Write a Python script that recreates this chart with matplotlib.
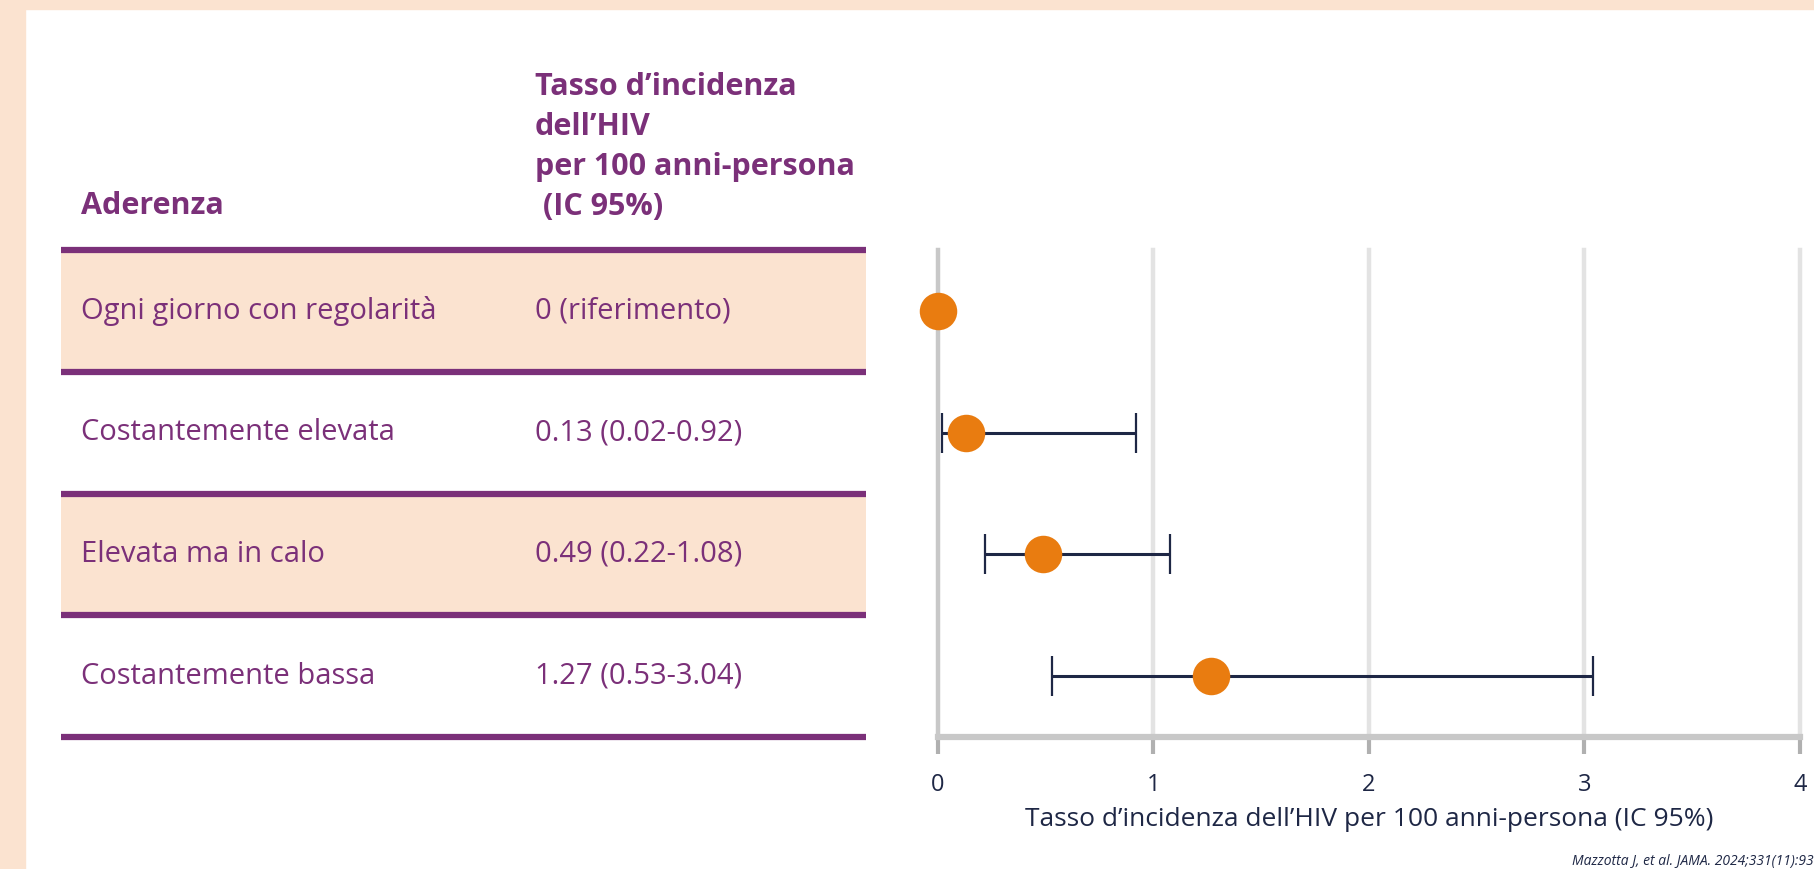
import matplotlib.pyplot as plt

# data
groups = ['Ogni giorno con regolarità', 'Costantemente elevata',
          'Elevata ma in calo', 'Costantemente bassa']
rate_text = ['0 (riferimento)', '0.13 (0.02-0.92)', '0.49 (0.22-1.08)', '1.27 (0.53-3.04)']
rate = [0.0, 0.13, 0.49, 1.27]
ci_low = [None, 0.02, 0.22, 0.53]
ci_high = [None, 0.92, 1.08, 3.04]
xticks = [0, 1, 2, 3, 4]

purple = '#7B3079'
peach = '#FBE3D0'
navy = '#1E2745'
orange = '#E97C10'
W, H = 1815, 869

plt.rcParams['font.family'] = ['Open Sans', 'DejaVu Sans']

fig = plt.figure(figsize=(W / 100, H / 100), dpi=100)
fig.patch.set_facecolor('white')

# peach frame (top strip and left strip)
fig.patches.append(plt.Rectangle((0, 1 - 9 / H), 1, 9 / H, transform=fig.transFigure,
                                 color=peach, zorder=0))
fig.patches.append(plt.Rectangle((0, 0), 25 / W, 1, transform=fig.transFigure,
                                 color=peach, zorder=0))

top, bot = 250, 737
ax_bottom = (H - bot) / H
ax_height = (bot - top) / H

# table on the left
axt = fig.add_axes([61 / W, ax_bottom, 805 / W, ax_height])
axt.set_xlim(0, 1)
axt.set_ylim(len(groups) - 0.5, -0.5)
axt.axis('off')
for i, (g, t) in enumerate(zip(groups, rate_text)):
    if i % 2 == 0:
        axt.axhspan(i - 0.5, i + 0.5, color=peach, zorder=0)
    axt.text(0.025, i, g, color=purple, fontsize=21, va='center')
    axt.text(0.589, i, t, color=purple, fontsize=21, va='center')
for i in range(len(groups) + 1):
    axt.axhline(i - 0.5, color=purple, lw=4.5, clip_on=False, zorder=2,
                solid_capstyle='butt')

fig.text(81 / W, 1 - 206 / H, 'Aderenza', color=purple, fontsize=22,
         fontweight='bold', va='center')
header = ['Tasso d\u2019incidenza', 'dell\u2019HIV', 'per 100 anni-persona', ' (IC 95%)']
for k, line in enumerate(header):
    fig.text(535 / W, 1 - (87 + 40 * k) / H, line, color=purple, fontsize=22,
             fontweight='bold', va='center')

# forest plot on the right
ax = fig.add_axes([937.6 / W, ax_bottom, 862.4 / W, ax_height])
ax.set_xlim(0, 4)
ax.set_ylim(len(groups) - 0.5, -0.5)
for x in xticks:
    ax.axvline(x, color='#C8C8C8' if x == 0 else '#E3E3E3', lw=3.2,
               clip_on=False, zorder=1)
for i in range(len(groups)):
    if ci_low[i] is not None:
        ax.errorbar(rate[i], i, xerr=[[rate[i] - ci_low[i]], [ci_high[i] - rate[i]]],
                    fmt='none', ecolor=navy, elinewidth=2.2, capsize=14.5,
                    capthick=1.6, zorder=3)
ax.plot(rate, range(len(groups)), 'o', color=orange, ms=27, mew=0,
        clip_on=False, zorder=4)

for s in ['top', 'right', 'left']:
    ax.spines[s].set_visible(False)
ax.spines['bottom'].set_color('#C8C8C8')
ax.spines['bottom'].set_linewidth(4.5)
ax.set_yticks([])
ax.set_xticks(xticks)
ax.tick_params(axis='x', length=12, width=3, color='#B0B0B0', labelcolor=navy,
               labelsize=17, pad=14)
ax.set_xlabel('Tasso d\u2019incidenza dell\u2019HIV per 100 anni-persona (IC 95%)',
              color=navy, fontsize=19, labelpad=7)

fig.text(1572 / W, 1 - 862 / H, 'Mazzotta J, et al. JAMA. 2024;331(11):930-939.',
         color=navy, fontsize=10, style='italic', va='center')

fig.savefig('out.png', dpi=100)
